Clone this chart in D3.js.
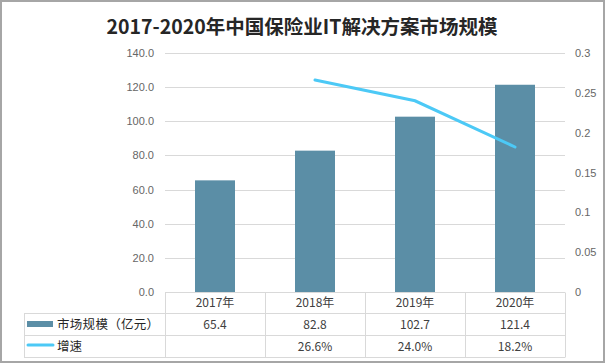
<!DOCTYPE html>
<html><head><meta charset="utf-8">
<script src="https://cdn.jsdelivr.net/npm/d3@7"></script>
<style>body{margin:0;background:#fff}svg{display:block}text{font-family:"Noto Sans CJK SC","Liberation Sans",sans-serif}</style>
</head><body>
<script>
const categories = ["2017年","2018年","2019年","2020年"];
const marketSize = [65.4, 82.8, 102.7, 121.4];
const growth = [null, 0.266, 0.240, 0.182];
const growthLabels = ["", "26.6%", "24.0%", "18.2%"];
const leftTicks = [0,20,40,60,80,100,120,140];
const rightTicks = [0,0.05,0.1,0.15,0.2,0.25,0.3];
const seriesNames = ["市场规模（亿元）","增速"];
const title = "2017-2020年中国保险业IT解决方案市场规模";

const W=606,H=364;
const svg=d3.select("body").append("svg").attr("width",W).attr("height",H);
svg.append("rect").attr("x",1).attr("y",1).attr("width",603).attr("height",361)
  .attr("fill","#fff").attr("stroke","#a6a6a6").attr("stroke-width",2);

const x0=165,x1=565,yTop=53,yBot=292;
const x=d3.scaleBand().domain(categories).range([x0,x1]);
const yL=d3.scaleLinear().domain([0,140]).range([yBot,yTop]);
const yR=d3.scaleLinear().domain([0,0.3]).range([yBot,yTop]);

svg.append("text").attr("x",302).attr("y",34).attr("text-anchor","middle")
  .attr("font-size",19.5).attr("font-weight","bold").attr("fill","#262626").text(title);

// gridlines
svg.append("g").selectAll("line").data(leftTicks.filter(d=>d>0)).join("line")
  .attr("x1",x0).attr("x2",x1).attr("y1",d=>Math.round(yL(d))+0.5).attr("y2",d=>Math.round(yL(d))+0.5)
  .attr("stroke","#d9d9d9").attr("stroke-width",1);

// left axis labels
const gl=svg.append("g").attr("transform",`translate(${x0},0)`)
  .call(d3.axisLeft(yL).tickValues(leftTicks).tickFormat(d3.format(".1f")).tickSize(0).tickPadding(11));
gl.select(".domain").remove();
gl.selectAll("text").attr("font-size",11).attr("fill","#666").style("font-family","'Liberation Sans',sans-serif");

const gr=svg.append("g").attr("transform",`translate(${x1},0)`)
  .call(d3.axisRight(yR).tickValues(rightTicks).tickFormat(d=>String(+d.toFixed(2))).tickSize(0).tickPadding(10));
gr.select(".domain").remove();
gr.selectAll("text").attr("font-size",11).attr("fill","#666").style("font-family","'Liberation Sans',sans-serif");

// bars
const bw=40;
svg.append("g").selectAll("rect").data(marketSize).join("rect")
  .attr("x",(d,i)=>x(categories[i])+x.bandwidth()/2-bw/2)
  .attr("y",d=>yL(d)).attr("width",bw).attr("height",d=>yBot-yL(d))
  .attr("fill","#5b8ea6");

// line
const pts=growth.map((g,i)=>({c:categories[i],g})).filter(p=>p.g!=null);
svg.append("path").datum(pts)
  .attr("d",d3.line().x(p=>x(p.c)+x.bandwidth()/2).y(p=>yR(p.g)))
  .attr("fill","none").attr("stroke","#4cc9f6").attr("stroke-width",3).attr("stroke-linecap","round");

// data table
const tl=24, r1=292.5, r2=313.5, r3=335.5, r4=357.5;
const tg=svg.append("g").attr("stroke","#d9d9d9").attr("stroke-width",1);
tg.append("line").attr("x1",x0).attr("x2",x1).attr("y1",r1).attr("y2",r1);
[r2,r3,r4].forEach(y=>tg.append("line").attr("x1",tl).attr("x2",x1).attr("y1",y).attr("y2",y));
tg.append("line").attr("x1",tl+0.5).attr("x2",tl+0.5).attr("y1",r2).attr("y2",r4);
categories.concat(["end"]).forEach((c,i)=>{
  const xx=x0+i*x.bandwidth()+0.5;
  tg.append("line").attr("x1",xx).attr("x2",xx).attr("y1",r1).attr("y2",r4);
});
const cellText=(vals,yc)=>svg.append("g").selectAll("text").data(vals).join("text")
  .attr("x",(d,i)=>x(categories[i])+x.bandwidth()/2).attr("y",yc).attr("text-anchor","middle")
  .attr("font-size",12).attr("fill","#404040").text(d=>d);
cellText(categories,307);
cellText(marketSize.map(d=>d.toFixed(1)),329);
cellText(growthLabels,351);

// legend keys
svg.append("rect").attr("x",27).attr("y",321).attr("width",26).attr("height",6).attr("fill","#5b8ea6");
svg.append("line").attr("x1",28).attr("x2",53).attr("y1",345).attr("y2",345)
  .attr("stroke","#4cc9f6").attr("stroke-width",3).attr("stroke-linecap","round");
svg.append("text").attr("x",57).attr("y",329).attr("font-size",12.5).attr("fill","#262626")
  .style("letter-spacing","0.3px").text(seriesNames[0]);
svg.append("text").attr("x",57).attr("y",351).attr("font-size",12.5).attr("fill","#262626")
  .text(seriesNames[1]);
</script>
</body></html>
